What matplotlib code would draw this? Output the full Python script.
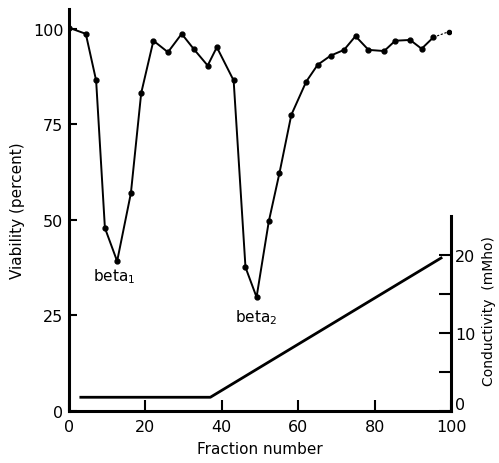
import matplotlib
matplotlib.use("Agg")
import matplotlib.pyplot as plt
from matplotlib.transforms import ScaledTranslation

# Viability data (fraction number, percent)
frac = [0, 4.4, 7.1, 9.4, 12.6, 16.2, 18.9, 22.1, 25.9, 29.5, 32.6, 36.3, 38.7,
        43.1, 46.2, 49.1, 52.3, 55.1, 58.2, 62.1, 65.1, 68.5, 72.0, 75.0, 78.4,
        82.5, 85.4, 89.3, 92.3, 95.4]
viab = [100.3, 98.7, 86.5, 47.9, 39.2, 57.0, 83.2, 96.9, 93.9, 98.7, 94.8, 90.4, 95.2,
        86.5, 37.6, 29.8, 49.6, 62.3, 77.5, 86.2, 90.6, 93.0, 94.5, 98.1, 94.5,
        94.2, 96.9, 97.1, 94.8, 97.8]
last_frac = [95.4, 99.5]
last_viab = [97.8, 99.3]

# Conductivity gradient (fraction number, mMho)
cond_x = [3.1, 37.0, 97.4]
cond_y = [1.76, 1.76, 19.6]

xticks = [0, 20, 40, 60, 80, 100]
yticks = [0, 25, 50, 75, 100]
rticks = [0, 5, 10, 15, 20]
rticklabels = ["0", "", "10", "", "20"]

plt.rcParams['font.family'] = ['DejaVu Sans']
fig = plt.figure(figsize=(4.99, 4.64), dpi=100)
ax = fig.add_axes([69/499, 52/464, (451-69)/499, (412-10)/464])

ax.plot(frac, viab, color='black', lw=1.4, marker='o', ms=3.5)
ax.plot(last_frac, last_viab, color='black', lw=0.8, ls=(0, (2, 1.5)))
ax.plot(last_frac[-1:], last_viab[-1:], 'o', color='black', ms=3)

ax.set_xlim(0, 100)
ax.set_ylim(0, 105.2)
ax.set_xticks(xticks)
ax.set_yticks(yticks)
ax.tick_params(direction='in', length=6, width=1.5, labelsize=11.5, pad=4)
ax.tick_params(axis='x', length=8, pad=6)
for s in ['top', 'right']:
    ax.spines[s].set_visible(False)
for s in ['left', 'bottom']:
    ax.spines[s].set_linewidth(2.2)
ax.set_xlabel('Fraction number', fontsize=11, labelpad=5)
ax.set_ylabel('Viability (percent)', fontsize=11, labelpad=6)

ax.text(11.8, 35.3, r'beta$_1$', fontsize=11, ha='center', va='center')
ax.text(49.1, 24.6, r'beta$_2$', fontsize=11, ha='center', va='center')

ax2 = ax.twinx()
ax2.plot(cond_x, cond_y, color='black', lw=2)
ax2.set_ylim(0, 51.5)
ax2.set_yticks(rticks)
ax2.set_yticklabels(rticklabels)
ax2.tick_params(direction='in', length=9, width=1.5, labelsize=11.5, pad=3)
for s in ['top', 'left', 'bottom']:
    ax2.spines[s].set_visible(False)
ax2.spines['right'].set_bounds(0, 25)
ax2.spines['right'].set_linewidth(2.2)
ax2.set_ylabel('Conductivity  (mMho)', fontsize=10)
ax2.yaxis.set_label_coords(1.08, 0.251)

# raise the right-hand "0" slightly, as in the original
for lab in ax2.get_yticklabels():
    if lab.get_text() == "0":
        lab.set_transform(lab.get_transform() + ScaledTranslation(0, 6/72, fig.dpi_scale_trans))

fig.savefig('out.png', dpi=100)
